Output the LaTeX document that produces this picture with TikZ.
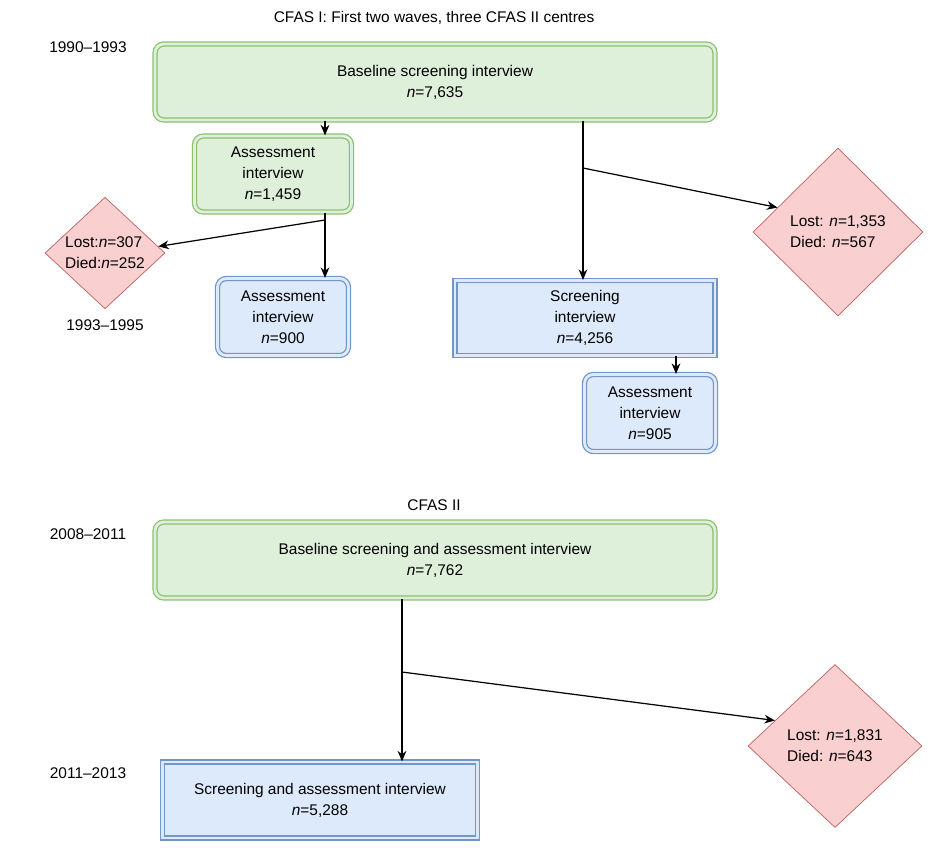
\documentclass[tikz,border=0pt]{standalone}
\usepackage{fontspec}
\setmainfont{Liberation Sans}
\usepackage{tikz}
\usetikzlibrary{arrows.meta,shapes.geometric}
\definecolor{grnline}{HTML}{8CC070}
\definecolor{grnfill}{HTML}{DEEFDA}
\definecolor{bluline}{HTML}{7396C8}
\definecolor{blufill}{HTML}{DCEAFB}
\definecolor{redline}{HTML}{C06060}
\definecolor{redfill}{HTML}{F9D0CF}

\begin{document}
\begin{tikzpicture}[x=0.02cm, y=-0.02cm,
font=\fontsize{8.8}{12}\selectfont,
% common options for the boxes:
greenbox/.style = {draw=grnline, double=grnfill, double distance=1.6pt, line width=0.7pt,
            fill=grnfill, rounded corners=5pt, align=center, inner sep=0},
bluebox/.style = {draw=bluline, double=blufill, double distance=1.6pt, line width=0.7pt,
            fill=blufill, rounded corners=5pt, align=center, inner sep=0},
blueflat/.style = {bluebox, rounded corners=0pt},
% common options for the diamonds:
lostbox/.style = {diamond, draw=redline, fill=redfill, align=left, inner sep=0},
arr/.style = {-{Stealth[length=6pt,width=5pt]}, line width=0.7pt}]
\useasboundingbox (0,0) rectangle (939,849);
\node (title1) at (434,18) {CFAS I: First two waves, three CFAS II centres};
\node (y1) at (88,47) {1990--1993};
\node (y2) at (105,325) {1993--1995};
\node (title2) at (434,505) {CFAS II};
\node (y3) at (88,534) {2008--2011};
\node (y4) at (88,773) {2011--2013};
\node[greenbox,minimum width=11.2cm,minimum height=1.52cm] (base1) at (435,82) {Baseline screening interview\\\textit{n}=7,635};
\node[greenbox,minimum width=3.14cm,minimum height=1.52cm] (assess1) at (273,174) {Assessment\\interview\\\textit{n}=1,459};
\node[bluebox,minimum width=2.62cm,minimum height=1.54cm] (a900) at (283,317) {Assessment\\interview\\\textit{n}=900};
\node[blueflat,minimum width=5.2cm,minimum height=1.5cm] (scr) at (585,318) {Screening\\interview\\\textit{n}=4,256};
\node[bluebox,minimum width=2.62cm,minimum height=1.54cm] (a905) at (650,413) {Assessment\\interview\\\textit{n}=905};
\node[lostbox,minimum width=2.4cm,minimum height=2.2cm] (lost1) at (105,253) {Lost:\textit{n}=307\\Died:\textit{n}=252};
\node[lostbox,minimum width=3.4cm,minimum height=3.36cm] (lost2) at (838,232) {Lost: \textit{n}=1,353\\Died: \textit{n}=567};
\node[greenbox,minimum width=11.2cm,minimum height=1.52cm] (base2) at (435,560) {Baseline screening and assessment interview\\\textit{n}=7,762};
\node[blueflat,minimum width=6.3cm,minimum height=1.52cm] (scr2) at (320,800) {Screening and assessment interview\\\textit{n}=5,288};
\node[lostbox,minimum width=3.48cm,minimum height=3.26cm] (lost3) at (835,746) {Lost: \textit{n}=1,831\\Died: \textit{n}=643};
\coordinate (c1) at (325,220);
\coordinate (c2) at (583,168);
\coordinate (c3) at (402,672);
\coordinate (c4) at (676,365);
\draw[arr] (base1.south -| c1) -- (assess1.north -| c1);
\draw[line width=0.7pt] (assess1.south -| c1) -- (c1);
\draw[arr] (c1) -- (a900.north -| c1);
\draw[arr] (c1) -- (lost1.7);
\draw[line width=0.7pt] (base1.south -| c2) -- (c2);
\draw[arr] (c2) -- (scr.north -| c2);
\draw[arr] (c2) -- (lost2.158);
\draw[arr] (scr.south -| c4) -- (a905.north -| c4);
\draw[line width=0.7pt] (base2.south -| c3) -- (c3);
\draw[arr] (c3) -- (scr2.north -| c3);
\draw[arr] (c3) -- (lost3.157);
\end{tikzpicture}
\end{document}
